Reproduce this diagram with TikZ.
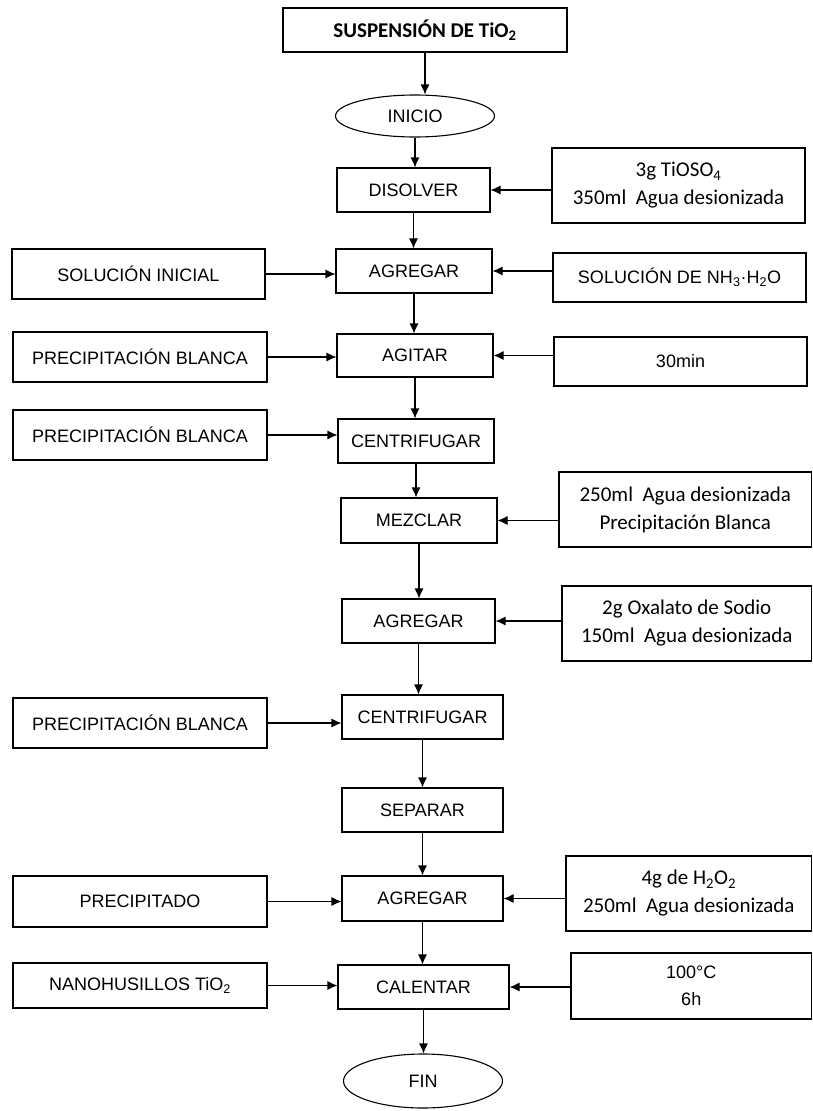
\documentclass[tikz,border=0pt]{standalone}
\usepackage{fontspec}
\setmainfont{Liberation Sans}
\newfontfamily\calibri{Carlito}
\usetikzlibrary{arrows.meta,shapes.geometric}

\begin{document}
\begin{tikzpicture}[x=1pt,y=-1pt, line width=1.1pt,
    every node/.style={font=\fontsize{18}{21}\selectfont},
    proc/.style={draw, rectangle, inner sep=0pt, minimum height=44pt},
    side/.style={draw, rectangle, inner sep=0pt, minimum width=254pt, minimum height=50pt},
    note/.style={draw, rectangle, inner sep=0pt, align=center, font=\calibri\fontsize{21}{28}\selectfont},
    term/.style={draw, ellipse, inner sep=0pt, minimum width=159pt},
    flow/.style={-{Latex[length=10pt,width=9pt]}}]
    \useasboundingbox (0,0) rectangle (812,1111);
    % main column
    \node [proc, minimum width=284pt, font=\calibri\bfseries\fontsize{21}{25}\selectfont] (titulo) at (425,30) {SUSPENSIÓN DE TiO\textsubscript{2}};
    \node [term, minimum height=42pt] (inicio) at (415,116) {INICIO};
    \node [proc, minimum width=153pt] (disolver) at (413.5,190) {DISOLVER};
    \node [proc, minimum width=156pt] (agregarA) at (414,271) {AGREGAR};
    \node [proc, minimum width=156pt, minimum height=43pt] (agitar) at (415,355.5) {AGITAR};
    \node [proc, minimum width=156pt] (centrifA) at (416,441) {CENTRIFUGAR};
    \node [proc, minimum width=156pt, minimum height=45pt] (mezclar) at (419,520.5) {MEZCLAR};
    \node [proc, minimum width=153pt] (agregarB) at (418.5,621) {AGREGAR};
    \node [proc, minimum width=161pt] (centrifB) at (422.5,717) {CENTRIFUGAR};
    \node [proc, minimum width=161pt] (separar) at (422.5,810) {SEPARAR};
    \node [proc, minimum width=161pt, minimum height=45pt] (agregarC) at (422.5,898.5) {AGREGAR};
    \node [proc, minimum width=171pt] (calentar) at (423.5,987) {CALENTAR};
    \node [term, minimum height=54pt] (fin) at (423,1081) {FIN};
    % left inputs
    \node [side, minimum width=253pt] (solini) at (138.5,274) {SOLUCIÓN INICIAL};
    \node [side] (precA) at (140,357) {PRECIPITACIÓN BLANCA};
    \node [side] (precB) at (140,435) {PRECIPITACIÓN BLANCA};
    \node [side] (precC) at (140,723) {PRECIPITACIÓN BLANCA};
    \node [side, minimum height=51pt] (precipitado) at (140,901.5) {PRECIPITADO};
    \node [side, minimum height=45pt] (nanohus) at (140,985.5) {NANOHUSILLOS TiO\textsubscript{2}};
    % right inputs
    \node [note, minimum width=253pt, minimum height=75pt] (tioso) at (678.5,185.5) {3g TiOSO\textsubscript{4}\\350ml~~Agua desionizada};
    \node [side, minimum width=253pt, minimum height=49pt] (amoniaco) at (679.5,277.5) {SOLUCIÓN DE NH\textsubscript{3}·H\textsubscript{2}O};
    \node [side, minimum width=253pt, minimum height=49pt] (tiempo) at (680.5,361.5) {30min};
    \node [note, minimum width=252.5pt, minimum height=75pt] (aguaA) at (685.25,509.5) {250ml~~Agua desionizada\\Precipitación Blanca};
    \node [note, minimum width=249.5pt, minimum height=75pt] (oxalato) at (686.75,623.5) {2g Oxalato de Sodio\\150ml~~Agua desionizada};
    \node [note, minimum width=245.5pt, minimum height=75pt] (peroxido) at (688.75,893.5) {4g de H\textsubscript{2}O\textsubscript{2}\\250ml~~Agua desionizada};
    \node [side, align=center, minimum width=240.5pt, minimum height=66pt, font=\fontsize{18}{27}\selectfont] (temp) at (691.25,986) {100°C\\6h};
    % main flow
    \draw [flow] (titulo) -- (titulo |- inicio.north);
    \draw [flow] (inicio) -- (inicio |- disolver.north);
    \draw [flow] (disolver) -- (disolver |- agregarA.north);
    \draw [flow] (agregarA) -- (agregarA |- agitar.north);
    \draw [flow] (agitar) -- (agitar |- centrifA.north);
    \draw [flow] (centrifA) -- (centrifA |- mezclar.north);
    \draw [flow] (mezclar) -- (mezclar |- agregarB.north);
    \draw [flow] (agregarB) -- (agregarB |- centrifB.north);
    \draw [flow] (centrifB) -- (centrifB |- separar.north);
    \draw [flow] (separar) -- (separar |- agregarC.north);
    \draw [flow] (agregarC) -- (agregarC |- calentar.north);
    \draw [flow] (calentar) -- (calentar |- fin.north);
    % inputs from the left
    \draw [flow] (solini) -- (solini -| agregarA.west);
    \draw [flow] (precA) -- (precA -| agitar.west);
    \draw [flow] (precB) -- (precB -| centrifA.west);
    \draw [flow] (precC) -- (precC -| centrifB.west);
    \draw [flow] (precipitado) -- (precipitado -| agregarC.west);
    \draw [flow] (nanohus) -- (nanohus -| calentar.west);
    % inputs from the right
    \draw [flow] (tioso.west |- disolver) -- (disolver);
    \draw [flow] (amoniaco.west |- agregarA) -- (agregarA);
    \draw [flow] (tiempo.west |- agitar) -- (agitar);
    \draw [flow] (aguaA.west |- mezclar) -- (mezclar);
    \draw [flow] (oxalato.west |- agregarB) -- (agregarB);
    \draw [flow] (peroxido.west |- agregarC) -- (agregarC);
    \draw [flow] (temp.west |- calentar) -- (calentar);
\end{tikzpicture}
\end{document}
